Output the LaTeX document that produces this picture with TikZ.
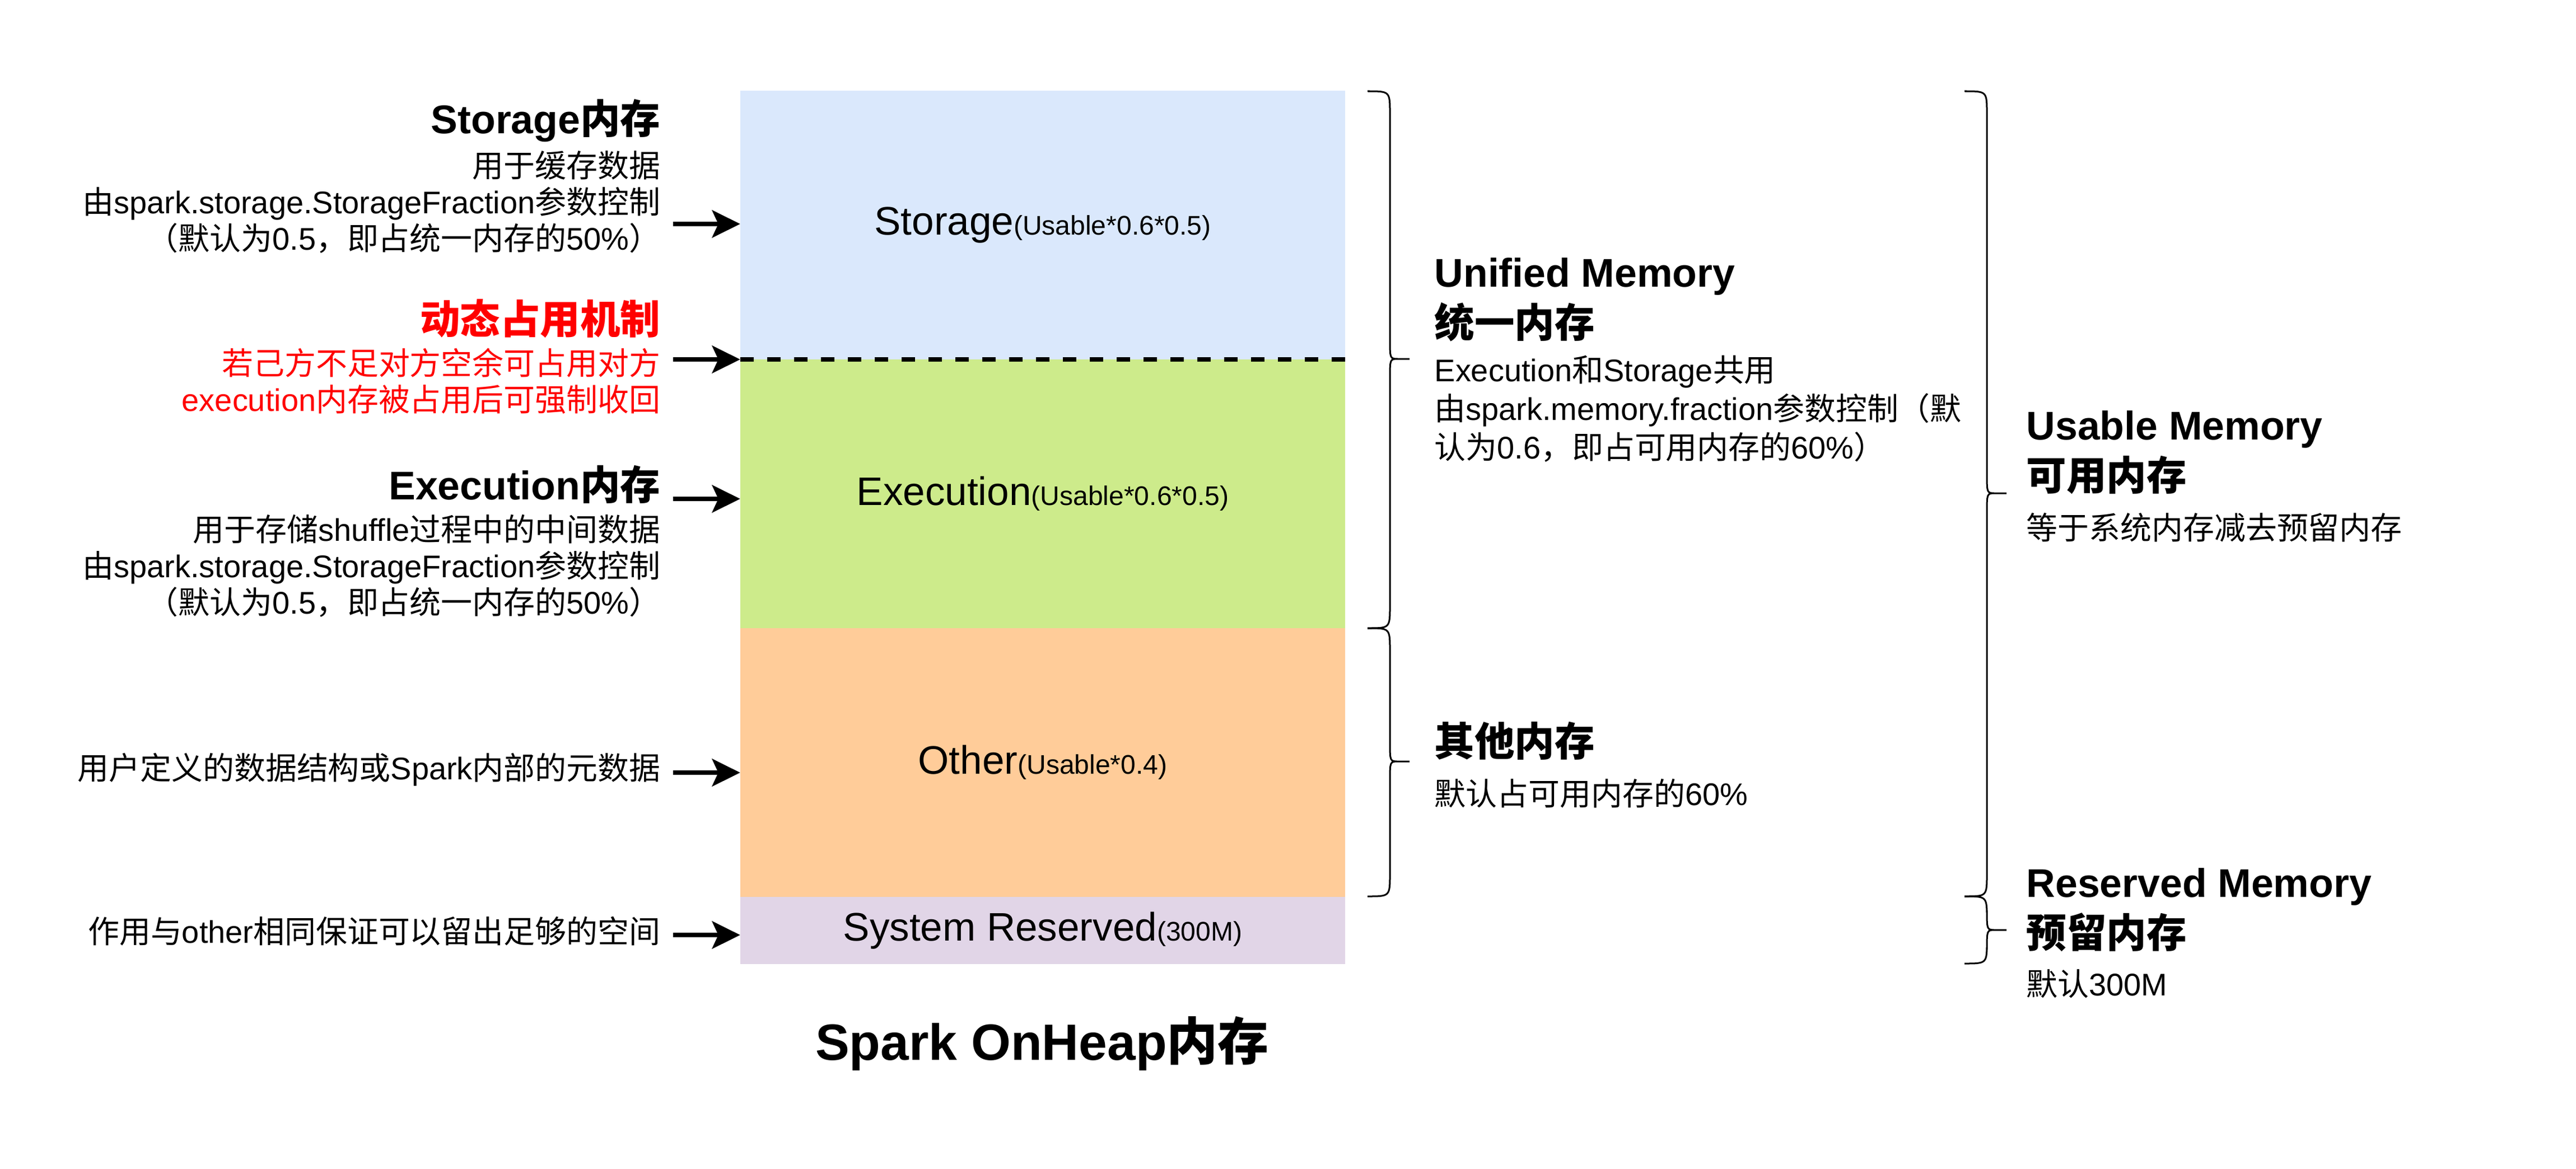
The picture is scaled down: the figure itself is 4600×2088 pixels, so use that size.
\documentclass[tikz,border=0pt]{standalone}
\usepackage{fontspec}
\setmainfont{Liberation Sans}
\newfontfamily\cjkfont{Noto Sans CJK SC}
\usepackage{xcolor}
\usetikzlibrary{arrows.meta}
\usetikzlibrary{positioning}

% switch to the CJK font for Chinese characters
\XeTeXinterchartokenstate=1
\newXeTeXintercharclass\cjkclass
\newcount\cjkcount
\newcommand{\setcjkrange}[2]{%
  \cjkcount=#1
  \loop
    \XeTeXcharclass\cjkcount=\cjkclass
    \advance\cjkcount by 1
  \ifnum\cjkcount<#2 \repeat}
\setcjkrange{"4E00}{"A000}
\setcjkrange{"3000}{"3040}
\setcjkrange{"FF00}{"FFF0}
\XeTeXinterchartoks 0 \cjkclass = {\cjkfont}
\XeTeXinterchartoks 4095 \cjkclass = {\cjkfont}
\XeTeXinterchartoks \cjkclass 0 = {\rmfamily}
\XeTeXinterchartoks \cjkclass 4095 = {\rmfamily}

\definecolor{storagefill}{HTML}{DAE8FC}
\definecolor{execfill}{HTML}{CDEB8B}
\definecolor{otherfill}{HTML}{FFCC99}
\definecolor{reservedfill}{HTML}{E1D5E7}

\newcommand{\smallpart}{\fontsize{13.66pt}{16pt}\selectfont}
\newcommand{\curlybrace}[4]{% left x, top, tip, bottom
  \draw[line width=0.3mm] (#1,#2) .. controls (#1+40,#2) .. (#1+40,#2+40)
    -- (#1+40,#3-35) .. controls (#1+40,#3) .. (#1+55,#3) -- (#1+75,#3)
    -- (#1+55,#3) .. controls (#1+40,#3) .. (#1+40,#3+35)
    -- (#1+40,#4-40) .. controls (#1+40,#4) .. (#1,#4);}

\tikzset{
  membox/.style={minimum width=10.8cm,inner sep=0pt,outer sep=0pt,
    font=\fontsize{20.2pt}{24pt}\selectfont},
  desc/.style={inner sep=0pt,font=\fontsize{15.9pt}{18.5pt}\selectfont},
  head/.style={inner sep=0pt,font=\fontsize{20.34pt}{25.6pt}\selectfont\bfseries},
  arr/.style={line width=0.8mm,-{Stealth[length=5mm,width=4.9mm,inset=1.1mm]}}
}

\begin{document}
\begin{tikzpicture}[x=0.01cm,y=-0.01cm]
\useasboundingbox (0,0) rectangle (4600,2088);

	% (blocks)
	\node[membox,fill=storagefill,minimum height=4.8cm] (storage) at (1862,402) {Storage{\smallpart(Usable*0.6*0.5)}};
	\node[membox,fill=execfill,minimum height=4.8cm] (execution) at (1862,882) {Execution{\smallpart(Usable*0.6*0.5)}};
	\node[membox,fill=otherfill,minimum height=4.8cm] (other) at (1862,1362) {Other{\smallpart(Usable*0.4)}};
	\node[membox,fill=reservedfill,minimum height=1.2cm] (reserved) at (1862,1662) {System Reserved{\smallpart(300M)}};
	\draw[line width=0.8mm,dash pattern=on 2.4mm off 2.4mm] (storage.south west) -- (storage.south east);
	\node[head,font=\fontsize{25.9pt}{30pt}\selectfont\bfseries] (onheap) at (1861,1864) {Spark OnHeap内存};

	% (left notes)
	\node[head,anchor=east] (st_head) at (1180,215) {Storage内存};
	\node[desc,anchor=east,align=right] (st_desc) at (1180,361) {用于缓存数据\\由spark.storage.StorageFraction参数控制\\（默认为0.5，即占统一内存的50\%）};
	\node[head,anchor=east,text=red] (dyn_head) at (1180,569) {动态占用机制};
	\node[desc,anchor=east,align=right,text=red] (dyn_desc) at (1180,681) {若己方不足对方空余可占用对方\\execution内存被占用后可强制收回};
	\node[head,anchor=east] (ex_head) at (1180,865) {Execution内存};
	\node[desc,anchor=east,align=right] (ex_desc) at (1180,1011) {用于存储shuffle过程中的中间数据\\由spark.storage.StorageFraction参数控制\\（默认为0.5，即占统一内存的50\%）};
	\node[desc,anchor=east] (oth_note) at (1180,1375) {用户定义的数据结构或Spark内部的元数据};
	\node[desc,anchor=east] (res_note) at (1180,1663) {作用与other相同保证可以留出足够的空间};

	% (arrows)
	\coordinate (a_st) at (1202,400);
	\coordinate (a_dyn) at (1202,642);
	\coordinate (a_ex) at (1202,891);
	\coordinate (a_oth) at (1202,1380);
	\coordinate (a_res) at (1202,1670);
	\draw[arr] (a_st) -- (a_st -| storage.west);
	\draw[arr] (a_dyn) -- (a_dyn -| storage.west);
	\draw[arr] (a_ex) -- (a_ex -| execution.west);
	\draw[arr] (a_oth) -- (a_oth -| other.west);
	\draw[arr] (a_res) -- (a_res -| reserved.west);

	% (braces)
	\curlybrace{2442}{163}{641}{1122}
	\curlybrace{2442}{1122}{1360}{1601}
	\curlybrace{3508}{163}{881}{1601}
	\curlybrace{3508}{1601}{1661}{1721}

	% (right notes)
	\node[head,anchor=west,align=left] (uni_head) at (2561,535) {Unified Memory\\统一内存};
	\node[desc,anchor=west,align=left,font=\fontsize{15.9pt}{19.6pt}\selectfont] (uni_desc) at (2561,730) {Execution和Storage共用\\由spark.memory.fraction参数控制（默\\认为0.6，即占可用内存的60\%）};
	\node[head,anchor=west] (oth_head) at (2561,1323) {其他内存};
	\node[desc,anchor=west] (oth_desc) at (2561,1417) {默认占可用内存的60\%};
	\node[head,anchor=west,align=left] (usa_head) at (3618,808) {Usable Memory\\可用内存};
	\node[desc,anchor=west] (usa_desc) at (3618,942) {等于系统内存减去预留内存};
	\node[head,anchor=west,align=left] (res_head) at (3618,1625) {Reserved Memory\\预留内存};
	\node[desc,anchor=west] (res_desc) at (3618,1757) {默认300M};

\end{tikzpicture}
\end{document}
